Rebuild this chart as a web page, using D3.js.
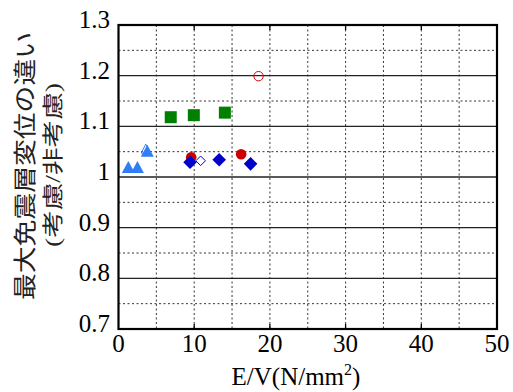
<!DOCTYPE html>
<html lang="en"><head><meta charset="utf-8">
<script src="https://cdn.jsdelivr.net/npm/d3@7"></script>
<style>body{margin:0;background:#fff}svg{display:block}</style>
</head><body>
<script>
const xTicks = [0,10,20,30,40,50];
const yTicks = [0.7,0.8,0.9,1,1.1,1.2,1.3];
const yTickLabels = ["0.7","0.8","0.9","1","1.1","1.2","1.3"];
const squaresGreen = [[6.9,1.118],[9.95,1.122],[14.05,1.127]];
const circlesRedOpen = [[18.5,1.199]];
const circlesRed = [[9.6,1.039],[16.2,1.045]];
const diamondsBlue = [[9.45,1.029],[13.3,1.034],[17.45,1.026]];
const diamondsBlueOpen = [[10.85,1.032]];
const trianglesLight = [[1.3,1.016],[2.5,1.016],[3.8,1.048]];
const trianglesLightOpen = [[3.6,1.053]];

const W=513,H=392;
const m={l:118.5,r:497,t:25,b:329};
const fam='"Liberation Serif","Noto Sans CJK JP"';
const svg=d3.select("body").append("svg").attr("width",W).attr("height",H);
const x=d3.scaleLinear().domain([0,50]).range([m.l,m.r]);
const y=d3.scaleLinear().domain([0.7,1.3]).range([m.b,m.t]);

// grid
const g=svg.append("g");
g.selectAll(".vg").data(d3.range(5,50,5)).enter().append("line")
 .attr("x1",d=>x(d)).attr("x2",d=>x(d)).attr("y1",m.t).attr("y2",m.b)
 .attr("stroke","#333").attr("stroke-width",1).attr("stroke-dasharray","2,2.5");
g.selectAll(".hm").data(d3.range(0.75,1.3,0.1)).enter().append("line")
 .attr("x1",m.l).attr("x2",m.r).attr("y1",d=>y(d)).attr("y2",d=>y(d))
 .attr("stroke","#333").attr("stroke-width",1).attr("stroke-dasharray","2,2.5");
g.selectAll(".hM").data([0.8,0.9,1,1.1,1.2]).enter().append("line")
 .attr("x1",m.l).attr("x2",m.r).attr("y1",d=>y(d)).attr("y2",d=>y(d))
 .attr("stroke","#222").attr("stroke-width",1.3);
g.selectAll(".xt").data([10,20,30,40]).enter().append("line")
 .attr("x1",d=>x(d)).attr("x2",d=>x(d)).attr("y1",m.b).attr("y2",m.b-5)
 .attr("stroke","#000").attr("stroke-width",1.3);
g.selectAll(".xt2").data([10,20,30,40]).enter().append("line")
 .attr("x1",d=>x(d)).attr("x2",d=>x(d)).attr("y1",m.t).attr("y2",m.t+5)
 .attr("stroke","#000").attr("stroke-width",1.3);

// markers
const mk=svg.append("g");
mk.selectAll(".sq").data(squaresGreen).enter().append("rect")
 .attr("x",d=>x(d[0])-6).attr("y",d=>y(d[1])-6).attr("width",12).attr("height",12)
 .attr("fill","#008000");
mk.selectAll(".co").data(circlesRedOpen).enter().append("circle")
 .attr("cx",d=>x(d[0])).attr("cy",d=>y(d[1])).attr("r",4.7)
 .attr("fill","none").attr("stroke","#dd0000").attr("stroke-width",1);
mk.selectAll(".cr").data(circlesRed).enter().append("circle")
 .attr("cx",d=>x(d[0])).attr("cy",d=>y(d[1])).attr("r",5.3)
 .attr("fill","#cc0000");
const diam=s=>`M0,${-s}L${s},0L0,${s}L${-s},0Z`;
mk.selectAll(".db").data(diamondsBlue).enter().append("path")
 .attr("transform",d=>`translate(${x(d[0])},${y(d[1])})`).attr("d",diam(6.8))
 .attr("fill","#0000cc");
mk.selectAll(".dbo").data(diamondsBlueOpen).enter().append("path")
 .attr("transform",d=>`translate(${x(d[0])},${y(d[1])})`).attr("d",diam(4.8))
 .attr("fill","none").attr("stroke","#0000dd").attr("stroke-width",1);
const tri=(w,h)=>`M0,${-h*2/3}L${w/2},${h/3}L${-w/2},${h/3}Z`;
mk.selectAll(".to").data(trianglesLightOpen).enter().append("path")
 .attr("transform",d=>`translate(${x(d[0])},${y(d[1])})`).attr("d",tri(9,9))
 .attr("fill","none").attr("stroke","#3380ff").attr("stroke-width",1);
mk.selectAll(".tl").data(trianglesLight).enter().append("path")
 .attr("transform",d=>`translate(${x(d[0])},${y(d[1])})`).attr("d",tri(13,12))
 .attr("fill","#2f7df8");

// frame
svg.append("rect").attr("x",m.l).attr("y",m.t).attr("width",m.r-m.l).attr("height",m.b-m.t)
 .attr("fill","none").attr("stroke","#000").attr("stroke-width",2.2);

// tick labels
svg.selectAll(".yl").data(yTicks).enter().append("text")
 .attr("x",110).attr("y",d=>y(d)+3).attr("text-anchor","end")
 .style("font-family",fam).style("font-size","25px").attr("fill","#000")
 .text((d,i)=>yTickLabels[i]);
svg.selectAll(".xl").data(xTicks).enter().append("text")
 .attr("x",d=>x(d)).attr("y",352).attr("text-anchor","middle")
 .style("font-family",fam).style("font-size","25px").attr("fill","#000")
 .text(d=>d);
const xt=svg.append("text").attr("x",296).attr("y",385).attr("text-anchor","middle")
 .style("font-family",fam).style("font-size","25px").attr("fill","#000");
xt.append("tspan").text("E/V(N/mm");
xt.append("tspan").style("font-size","16px").attr("dy",-10).text("2");
xt.append("tspan").attr("dy",10).text(")");

// y label
svg.append("text").attr("transform","translate(33,166) rotate(-90)")
 .attr("text-anchor","middle").style("font-family",fam).style("font-size","23px")
 .attr("textLength",268).attr("lengthAdjust","spacingAndGlyphs")
 .attr("fill","#222").text("最大免震層変位の違い");
svg.append("text").attr("transform","translate(60,165) rotate(-90)")
 .attr("text-anchor","middle").style("font-family",fam).style("font-size","21px")
 .attr("textLength",164).attr("lengthAdjust","spacingAndGlyphs")
 .attr("fill","#222").text("(考慮/非考慮)");
</script>
</body></html>
